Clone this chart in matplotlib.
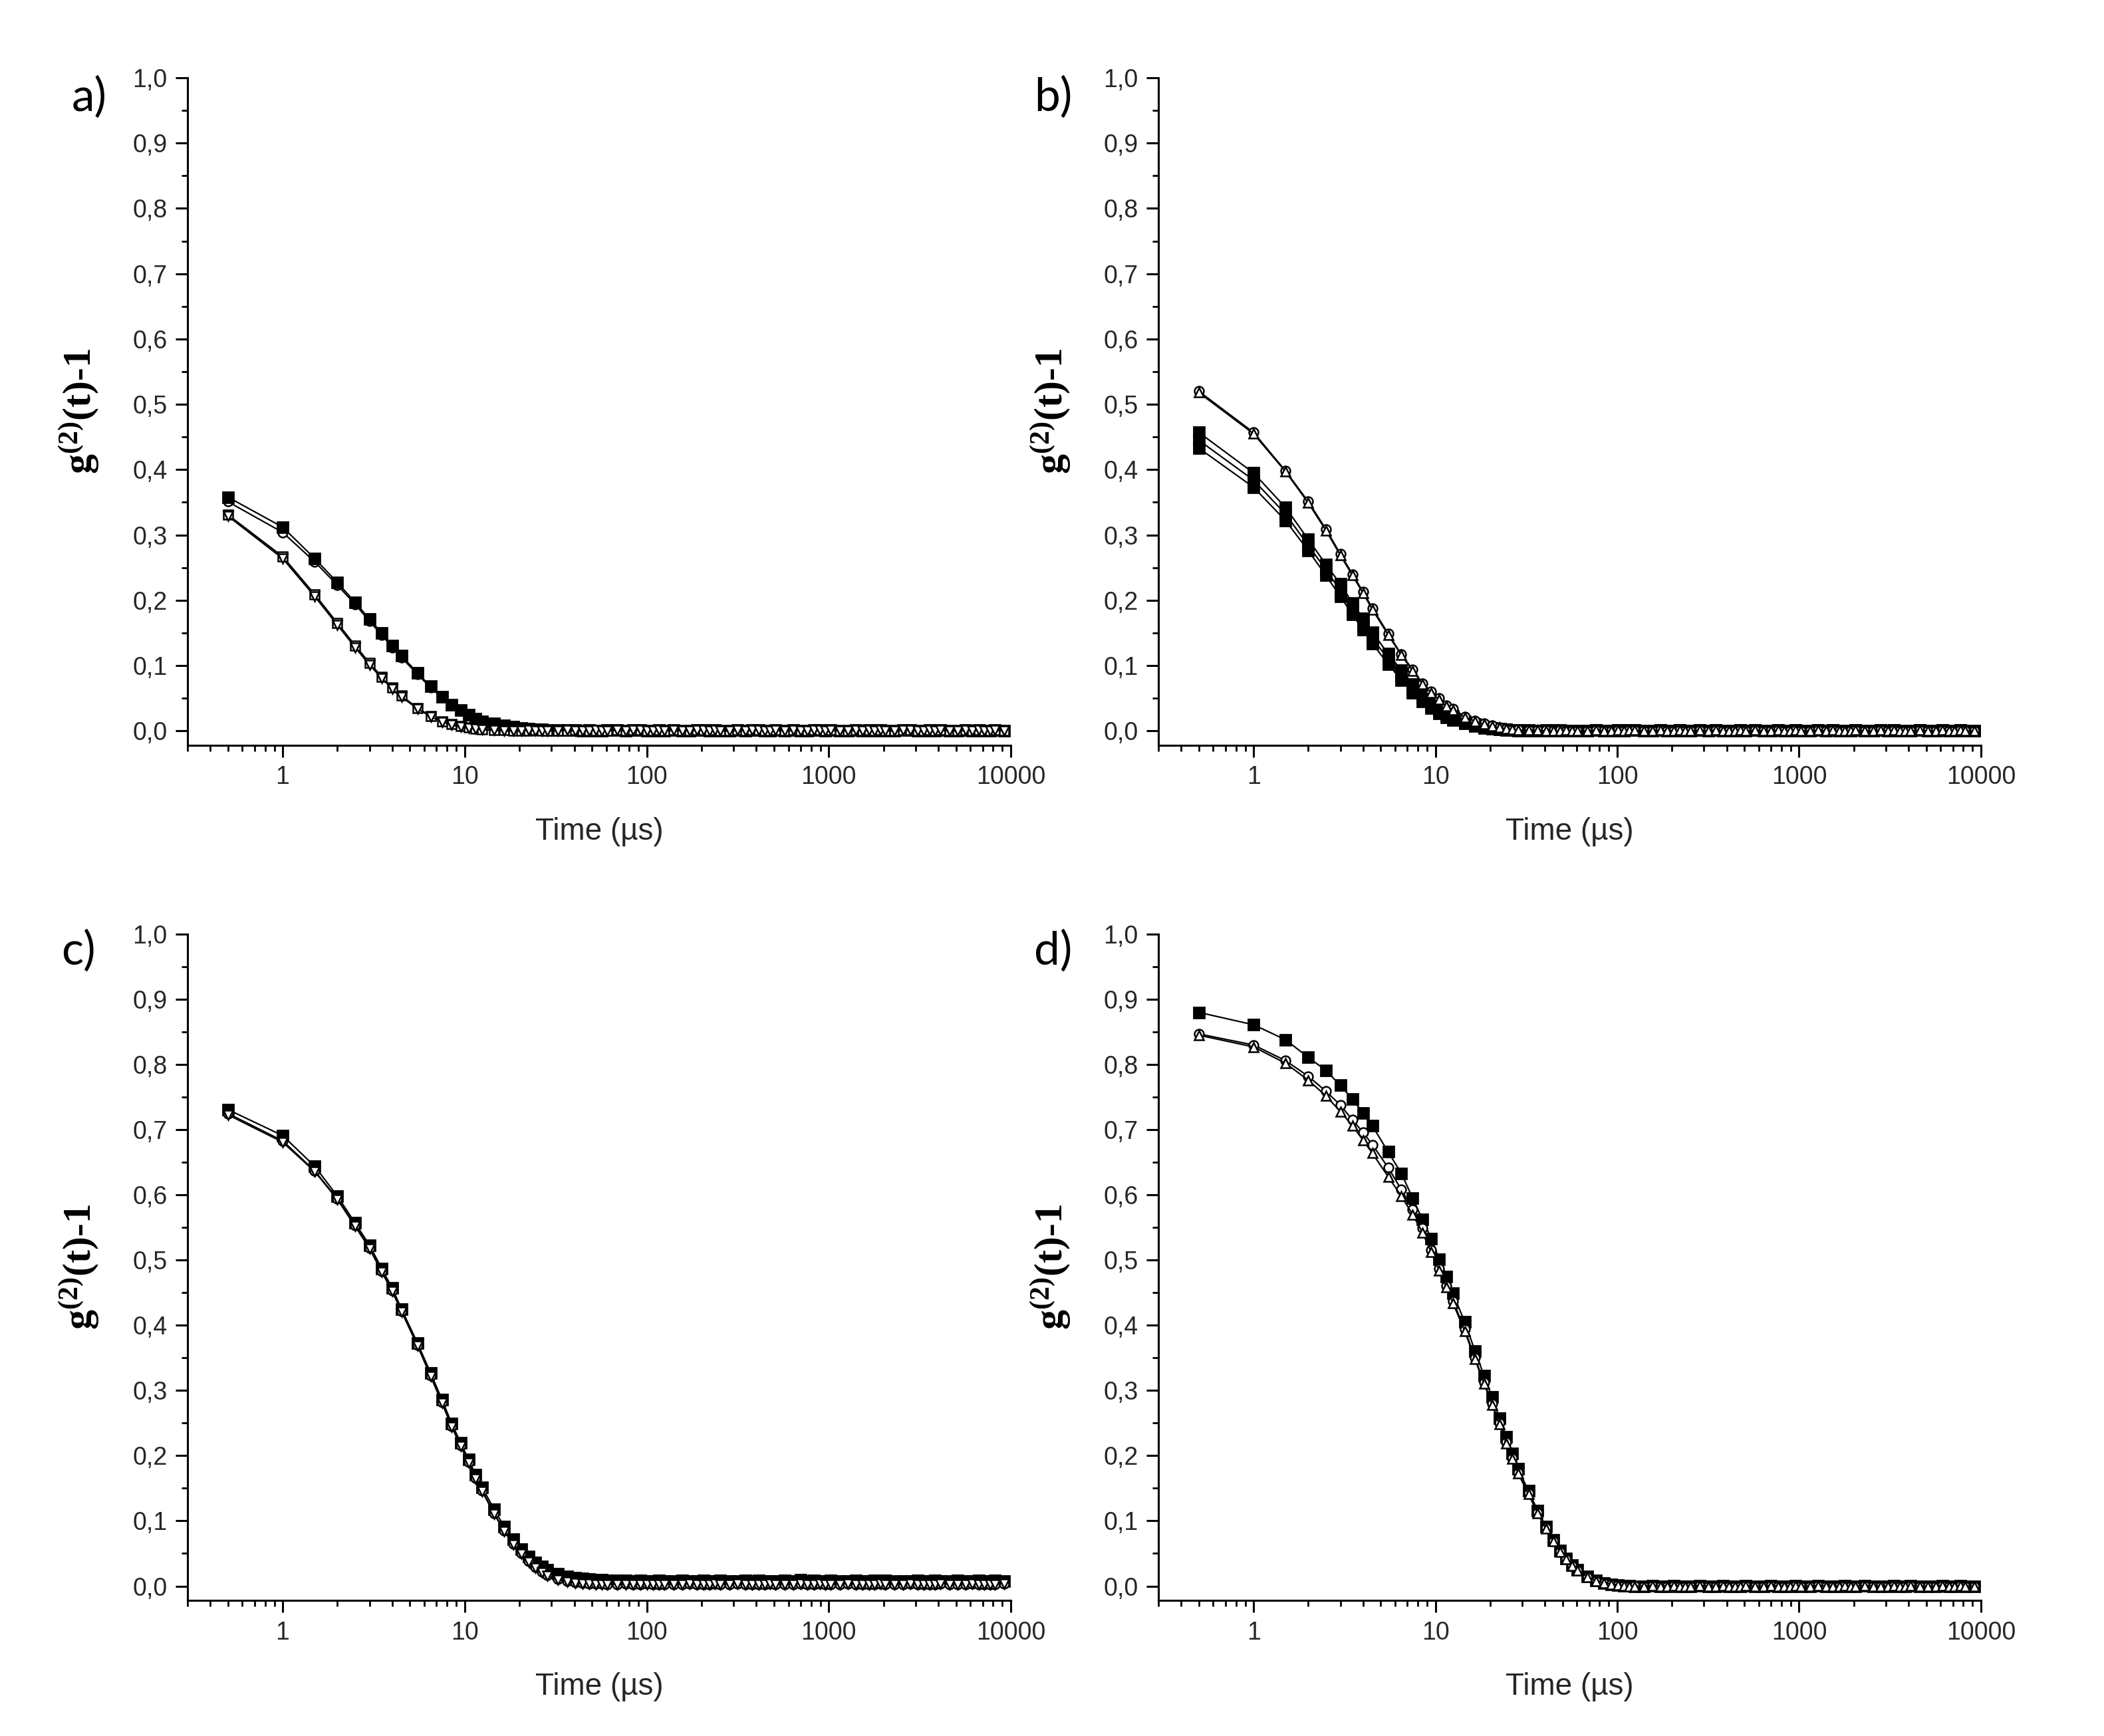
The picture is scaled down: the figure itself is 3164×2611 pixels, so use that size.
import numpy as np
import matplotlib
matplotlib.use("Agg")
import matplotlib.pyplot as plt
from matplotlib.ticker import FixedLocator, FuncFormatter, MultipleLocator, NullFormatter

plt.rcParams['font.family'] = ['Liberation Sans', 'DejaVu Sans']
plt.rcParams['mathtext.fontset'] = 'custom'
plt.rcParams['mathtext.rm'] = 'Liberation Serif:bold'
plt.rcParams['mathtext.it'] = 'Liberation Serif:bold'
plt.rcParams['mathtext.bf'] = 'Liberation Serif:bold'

# lag times of the correlator (us)
times = [
    0.5, 1.0, 1.5, 2.0, 2.5, 3.0, 3.5, 4.0, 4.5,
    5.5, 6.5, 7.5, 8.5, 9.5, 10.5, 11.5, 12.5,
    14.5, 16.5, 18.5, 20.5, 22.5, 24.5, 26.5, 28.5,
    32.5, 36.5, 40.5, 44.5, 48.5, 52.5, 56.5, 60.5,
    68.5, 76.5, 84.5, 92.5, 100.5, 108.5, 116.5, 124.5,
    140.5, 156.5, 172.5, 188.5, 204.5, 220.5, 236.5, 252.5,
    284.5, 316.5, 348.5, 380.5, 412.5, 444.5, 476.5, 508.5,
    572.5, 636.5, 700.5, 764.5, 828.5, 892.5, 956.5, 1020.5,
    1148.5, 1276.5, 1404.5, 1532.5, 1660.5, 1788.5, 1916.5, 2044.5,
    2300.5, 2556.5, 2812.5, 3068.5, 3324.5, 3580.5, 3836.5, 4092.5,
    4604.5, 5116.5, 5628.5, 6140.5, 6652.5, 7164.5, 7676.5, 8188.5,
    9212.5,
]

# ---- panel a (first 33 lag times, then baseline) ----
a_filled = [0.358, 0.312, 0.264, 0.227, 0.197, 0.171, 0.150, 0.131, 0.115,
            0.089, 0.068, 0.052, 0.040, 0.032, 0.025, 0.019, 0.015,
            0.011, 0.008, 0.006, 0.004, 0.003, 0.002, 0.002, 0.001,
            0.001, 0.001, 0.001, 0.000, 0.001, 0.000, 0.000, 0.001]
a_circle = [0.351, 0.304, 0.259, 0.223, 0.194, 0.168, 0.147, 0.128, 0.112,
            0.087, 0.066, 0.051, 0.039, 0.031, 0.024, 0.019, 0.015,
            0.010, 0.007, 0.005, 0.004, 0.003, 0.002, 0.001, 0.001,
            0.001, 0.000, 0.000, 0.001, 0.000, 0.000, 0.001, 0.000]
a_square = [0.331, 0.267, 0.209, 0.165, 0.131, 0.104, 0.083, 0.066, 0.054,
            0.035, 0.023, 0.015, 0.010, 0.007, 0.005, 0.003, 0.002,
            0.001, 0.001, 0.000, 0.000, 0.000, 0.001, 0.000, 0.000,
            0.000, 0.000, 0.001, 0.000, 0.000, 0.000, 0.000, 0.000]
a_triangle = [0.329, 0.264, 0.206, 0.162, 0.128, 0.101, 0.081, 0.064, 0.052,
              0.034, 0.022, 0.014, 0.009, 0.006, 0.004, 0.003, 0.002,
              0.001, 0.000, 0.000, 0.000, 0.001, 0.000, 0.000, 0.000,
              0.000, 0.001, 0.000, 0.000, 0.000, 0.001, 0.000, 0.000]
tail_a = [0.001, 0.000, 0.001, 0.001, 0.000, 0.000, 0.001, 0.000,
          0.001, 0.000, 0.000, 0.001, 0.001, 0.000, 0.001, 0.000,
          0.000, 0.001, 0.000, 0.001, 0.001, 0.000, 0.000, 0.001,
          0.000, 0.001, 0.000, 0.000, 0.001, 0.001, 0.000, 0.001,
          0.000, 0.000, 0.001, 0.000, 0.001, 0.000, 0.001, 0.000,
          0.000, 0.001, 0.001, 0.000, 0.000, 0.001, 0.000, 0.001,
          0.000, 0.000, 0.001, 0.000, 0.001, 0.000, 0.000, 0.001,
          0.000]

# ---- panel b ----
b_circle = [0.520, 0.457, 0.398, 0.351, 0.309, 0.271, 0.240, 0.213, 0.188,
            0.149, 0.117, 0.094, 0.073, 0.060, 0.050, 0.039, 0.034,
            0.022, 0.016, 0.011, 0.008, 0.005, 0.003, 0.002, 0.002,
            0.001, 0.001, 0.001, 0.000, 0.001, 0.000, 0.000, 0.000]
b_triangle = [0.518, 0.455, 0.397, 0.349, 0.307, 0.269, 0.238, 0.211, 0.186,
              0.147, 0.116, 0.092, 0.072, 0.058, 0.048, 0.038, 0.032,
              0.021, 0.015, 0.010, 0.007, 0.005, 0.003, 0.002, 0.001,
              0.001, 0.001, 0.000, 0.000, 0.000, 0.001, 0.000, 0.000]
b_filled1 = [0.457, 0.395, 0.342, 0.293, 0.255, 0.225, 0.196, 0.172, 0.151,
             0.118, 0.093, 0.072, 0.057, 0.045, 0.036, 0.029, 0.023,
             0.015, 0.010, 0.006, 0.004, 0.003, 0.002, 0.001, 0.001,
             0.001, 0.000, 0.000, 0.001, 0.000, 0.000, 0.000, 0.000]
b_filled2 = [0.445, 0.384, 0.332, 0.284, 0.247, 0.215, 0.187, 0.163, 0.142,
             0.110, 0.085, 0.065, 0.051, 0.040, 0.032, 0.025, 0.020,
             0.013, 0.008, 0.005, 0.003, 0.002, 0.002, 0.001, 0.001,
             0.000, 0.000, 0.001, 0.000, 0.000, 0.000, 0.000, 0.000]
b_filled3 = [0.433, 0.373, 0.322, 0.276, 0.238, 0.206, 0.178, 0.155, 0.134,
             0.102, 0.078, 0.058, 0.045, 0.035, 0.027, 0.021, 0.017,
             0.011, 0.007, 0.004, 0.003, 0.002, 0.001, 0.001, 0.000,
             0.000, 0.000, 0.000, 0.000, 0.001, 0.000, 0.000, 0.000]
tail_b = [0.000, 0.001, 0.000, 0.000, 0.001, 0.000, 0.001, 0.001,
          0.000, 0.000, 0.001, 0.000, 0.000, 0.001, 0.000, 0.000,
          0.001, 0.000, 0.001, 0.000, 0.000, 0.000, 0.001, 0.000,
          0.001, 0.000, 0.000, 0.001, 0.000, 0.000, 0.001, 0.000,
          0.000, 0.001, 0.000, 0.001, 0.000, 0.000, 0.000, 0.001,
          0.000, 0.000, 0.001, 0.000, 0.001, 0.000, 0.000, 0.000,
          0.001, 0.000, 0.000, 0.001, 0.000, 0.000, 0.001, 0.000,
          0.000]

# ---- panel c (first 41 lag times, then baseline) ----
c_filled = [0.731, 0.691, 0.644, 0.598, 0.557, 0.523, 0.487, 0.457, 0.425,
            0.373, 0.327, 0.286, 0.249, 0.220, 0.194, 0.171, 0.151,
            0.118, 0.091, 0.072, 0.057, 0.045, 0.036, 0.030, 0.025,
            0.019, 0.015, 0.013, 0.012, 0.011, 0.010, 0.010, 0.009,
            0.009, 0.009, 0.008, 0.009, 0.008, 0.008, 0.009, 0.008]
c_circle = [0.725, 0.683, 0.637, 0.594, 0.553, 0.519, 0.483, 0.453, 0.422,
            0.370, 0.323, 0.282, 0.245, 0.216, 0.190, 0.166, 0.146,
            0.112, 0.085, 0.065, 0.050, 0.038, 0.029, 0.022, 0.017,
            0.011, 0.008, 0.006, 0.005, 0.004, 0.004, 0.004, 0.003,
            0.003, 0.004, 0.003, 0.003, 0.004, 0.003, 0.003, 0.003]
c_triangle = [0.723, 0.681, 0.636, 0.593, 0.552, 0.518, 0.482, 0.452, 0.421,
              0.369, 0.322, 0.281, 0.244, 0.215, 0.189, 0.165, 0.145,
              0.111, 0.084, 0.064, 0.049, 0.037, 0.028, 0.021, 0.016,
              0.010, 0.007, 0.005, 0.004, 0.004, 0.003, 0.003, 0.003,
              0.003, 0.003, 0.003, 0.003, 0.003, 0.003, 0.003, 0.003]
tail_c_hi = [0.008, 0.009, 0.008, 0.008, 0.009, 0.008, 0.008, 0.009,
             0.008, 0.008, 0.009, 0.008, 0.009, 0.008, 0.008, 0.008,
             0.009, 0.008, 0.010, 0.008, 0.009, 0.008, 0.008, 0.009,
             0.008, 0.008, 0.009, 0.008, 0.008, 0.009, 0.008, 0.009,
             0.008, 0.008, 0.008, 0.009, 0.008, 0.008, 0.009, 0.008,
             0.008, 0.009, 0.008, 0.008, 0.009, 0.008, 0.008, 0.009,
             0.008]
tail_c_lo = [0.003, 0.003, 0.004, 0.003, 0.003, 0.003, 0.004, 0.003,
             0.003, 0.004, 0.003, 0.003, 0.003, 0.003, 0.004, 0.003,
             0.003, 0.003, 0.004, 0.003, 0.003, 0.004, 0.003, 0.003,
             0.003, 0.004, 0.003, 0.003, 0.003, 0.003, 0.004, 0.003,
             0.003, 0.003, 0.004, 0.003, 0.003, 0.003, 0.003, 0.004,
             0.003, 0.003, 0.003, 0.004, 0.003, 0.003, 0.003, 0.003,
             0.004]

# ---- panel d ----
d_filled = [0.880, 0.861, 0.838, 0.811, 0.791, 0.768, 0.747, 0.726, 0.706,
            0.666, 0.633, 0.595, 0.562, 0.533, 0.501, 0.475, 0.449,
            0.405, 0.361, 0.323, 0.290, 0.258, 0.229, 0.203, 0.180,
            0.146, 0.116, 0.091, 0.071, 0.055, 0.042, 0.032, 0.025,
            0.015, 0.009, 0.005, 0.003, 0.002, 0.001, 0.001, 0.000]
d_circle = [0.847, 0.830, 0.806, 0.782, 0.759, 0.738, 0.715, 0.696, 0.677,
            0.642, 0.608, 0.578, 0.549, 0.516, 0.487, 0.460, 0.437,
            0.394, 0.350, 0.313, 0.280, 0.250, 0.221, 0.196, 0.174,
            0.142, 0.113, 0.089, 0.069, 0.053, 0.041, 0.031, 0.024,
            0.014, 0.008, 0.005, 0.003, 0.002, 0.001, 0.000, 0.001]
d_triangle = [0.845, 0.827, 0.802, 0.776, 0.752, 0.728, 0.706, 0.684, 0.664,
              0.628, 0.598, 0.570, 0.542, 0.512, 0.484, 0.458, 0.434,
              0.391, 0.348, 0.311, 0.278, 0.248, 0.219, 0.195, 0.173,
              0.141, 0.112, 0.088, 0.069, 0.053, 0.041, 0.031, 0.024,
              0.014, 0.008, 0.005, 0.003, 0.002, 0.001, 0.000, 0.000]
tail_d = [0.000, 0.001, 0.000, 0.000, 0.001, 0.000, 0.000, 0.000,
          0.001, 0.000, 0.000, 0.001, 0.000, 0.000, 0.000, 0.001,
          0.000, 0.000, 0.001, 0.000, 0.000, 0.000, 0.001, 0.000,
          0.000, 0.001, 0.000, 0.000, 0.000, 0.001, 0.000, 0.000,
          0.001, 0.000, 0.000, 0.000, 0.001, 0.000, 0.000, 0.001,
          0.000, 0.000, 0.000, 0.001, 0.000, 0.000, 0.001, 0.000,
          0.000]

FILLED = dict(marker='s', ms=5.6, mfc='black', mec='black')
CIRCLE = dict(marker='o', ms=5.0, mfc='white', mec='black', mew=0.9)
SQUARE = dict(marker='s', ms=5.0, mfc='white', mec='black', mew=0.9)
TRI_UP = dict(marker='^', ms=5.0, mfc='white', mec='black', mew=0.9)
TRI_DN = dict(marker='v', ms=5.0, mfc='white', mec='black', mew=0.9)

# series listed in drawing order
panels = [
    ('a)', [0.0891, 0.5707, 0.3913, 0.3845], (0.034, 0.944),
     [(a_circle + tail_a, CIRCLE), (a_filled + tail_a, FILLED),
      (a_square + tail_a, SQUARE), (a_triangle + tail_a, TRI_DN)]),
    ('b)', [0.5506, 0.5707, 0.3909, 0.3845], (0.4915, 0.944),
     [(b_filled1 + tail_b, FILLED), (b_filled2 + tail_b, FILLED),
      (b_filled3 + tail_b, FILLED), (b_circle + tail_b, CIRCLE),
      (b_triangle + tail_b, TRI_UP)]),
    ('c)', [0.0891, 0.0781, 0.3913, 0.3838], (0.029, 0.452),
     [(c_filled + tail_c_hi, FILLED), (c_circle + tail_c_lo, CIRCLE),
      (c_triangle + tail_c_lo, TRI_DN)]),
    ('d)', [0.5506, 0.0781, 0.3909, 0.3838], (0.4915, 0.452),
     [(d_filled + tail_d, FILLED), (d_circle + tail_d, CIRCLE),
      (d_triangle + tail_d, TRI_UP)]),
]

fig = plt.figure(figsize=(15.82, 13.055), dpi=200)

for letter, rect, lpos, series in panels:
    ax = fig.add_axes(rect)
    for y, style in series:
        n = min(len(times), len(y))
        ax.plot(times[:n], y[:n], color='black', lw=0.8, **style)

    ax.set_xscale('log')
    ax.set_xlim(0.3, 10000)
    ax.set_ylim(-0.022, 1.0)

    ax.xaxis.set_major_locator(FixedLocator([1, 10, 100, 1000, 10000]))
    ax.xaxis.set_major_formatter(FuncFormatter(lambda v, p: f"{v:g}"))
    minors = [m * 10.0 ** e for e in range(-1, 4) for m in range(2, 10)]
    ax.xaxis.set_minor_locator(FixedLocator([m for m in minors if m >= 0.3]))
    ax.xaxis.set_minor_formatter(NullFormatter())

    ax.yaxis.set_major_locator(MultipleLocator(0.1))
    ax.yaxis.set_minor_locator(MultipleLocator(0.05))
    ax.yaxis.set_major_formatter(FuncFormatter(lambda v, p: f"{v:.1f}".replace('.', ',')))

    for side in ('top', 'right'):
        ax.spines[side].set_visible(False)
    for side in ('left', 'bottom'):
        ax.spines[side].set_linewidth(1.1)
    ax.tick_params(which='major', direction='out', length=6.5, width=1.1,
                   labelsize=13.5, labelcolor='#262626', pad=4.5)
    ax.tick_params(which='minor', direction='out', length=3.2, width=1.0)

    ax.set_xlabel('Time (\u00b5s)', fontsize=16.5, color='#262626', labelpad=15)
    ax.set_ylabel(r'g$^{(2)}$(t)-1', family='Liberation Serif', fontweight='bold',
                  fontsize=21.5)
    ax.yaxis.label.set_va('center')
    ax.yaxis.set_label_coords(-0.131, 0.5)

    fig.text(lpos[0], lpos[1], letter, family='Lato', fontsize=25,
             ha='left', va='center')

fig.savefig('out.png', dpi=200, facecolor='white')
